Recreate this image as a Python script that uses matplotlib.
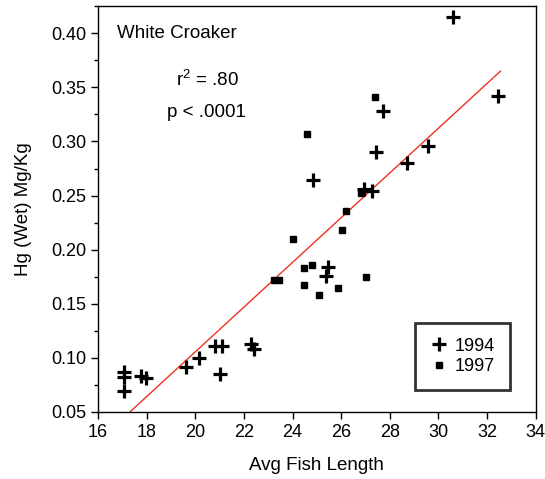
import matplotlib
matplotlib.use('Agg')
import matplotlib.pyplot as plt
from matplotlib.ticker import MultipleLocator

plt.rcParams['font.family'] = ['Liberation Sans', 'DejaVu Sans']
plt.rcParams['mathtext.default'] = 'regular'

# 1994 samples (+)
len_1994 = [30.6, 32.45, 27.7, 27.45, 29.56, 28.7, 24.83, 26.95, 27.25, 25.44, 25.38,
            20.8, 21.11, 22.3, 22.4, 20.13, 19.6, 21.0, 17.05, 17.05, 17.05, 17.75, 17.95]
hg_1994 = [0.415, 0.342, 0.328, 0.290, 0.296, 0.280, 0.264, 0.256, 0.254, 0.184, 0.176,
           0.111, 0.111, 0.113, 0.108, 0.100, 0.092, 0.085, 0.087, 0.082, 0.069, 0.083, 0.081]

# 1997 samples (squares)
len_1997 = [27.4, 24.6, 26.8, 26.18, 26.02, 24.0, 24.8, 24.46, 27.0, 23.22, 23.42,
            24.46, 25.85, 25.07]
hg_1997 = [0.341, 0.307, 0.252, 0.236, 0.218, 0.210, 0.186, 0.183, 0.175, 0.172, 0.172,
           0.167, 0.165, 0.158]

# regression line end points
fit_x = [17.31, 32.55]
fit_y = [0.05, 0.365]

fig = plt.figure(figsize=(5.45, 4.79), dpi=100)
ax = fig.add_axes([0.18, 0.14, 0.803, 0.847])

ax.plot(fit_x, fit_y, color='#f03020', lw=1.0, zorder=2)
ax.plot(len_1994, hg_1994, ls='none', marker='+', ms=9.5, mew=2.3, color='black',
        label='1994', zorder=3)
ax.plot(len_1997, hg_1997, ls='none', marker='s', ms=5, color='black',
        label='1997', zorder=3)

ax.set_xlim(16, 34)
ax.set_ylim(0.05, 0.425)
ax.xaxis.set_major_locator(MultipleLocator(2))
ax.yaxis.set_major_locator(MultipleLocator(0.05))
ax.yaxis.set_minor_locator(MultipleLocator(0.025))
ax.yaxis.set_major_formatter(matplotlib.ticker.FormatStrFormatter('%.2f'))
ax.tick_params(which='major', direction='out', length=5, width=1, labelsize=13)
ax.tick_params(which='minor', direction='out', length=3, width=1)
for s in ax.spines.values():
    s.set_linewidth(1.0)

ax.set_xlabel('Avg Fish Length', fontsize=13.5, labelpad=12)
ax.set_ylabel('Hg (Wet) Mg/Kg', fontsize=13.5, labelpad=14)

ax.text(0.043, 0.933, 'White Croaker', transform=ax.transAxes, fontsize=13.5,
        ha='left', va='center')
ax.text(0.25, 0.818, 'r$^{2}$ = .80', transform=ax.transAxes, fontsize=13.5,
        ha='center', va='center')
ax.text(0.248, 0.739, 'p < .0001', transform=ax.transAxes, fontsize=13.5,
        ha='center', va='center')

leg = ax.legend(loc='center', bbox_to_anchor=(0.8325, 0.137), fontsize=13,
                frameon=True, fancybox=False, edgecolor='black', handlelength=1.0,
                handletextpad=0.4, borderpad=0.8, labelspacing=0.2)
leg.get_frame().set_linewidth(2.0)

fig.savefig('out.png', dpi=100)
